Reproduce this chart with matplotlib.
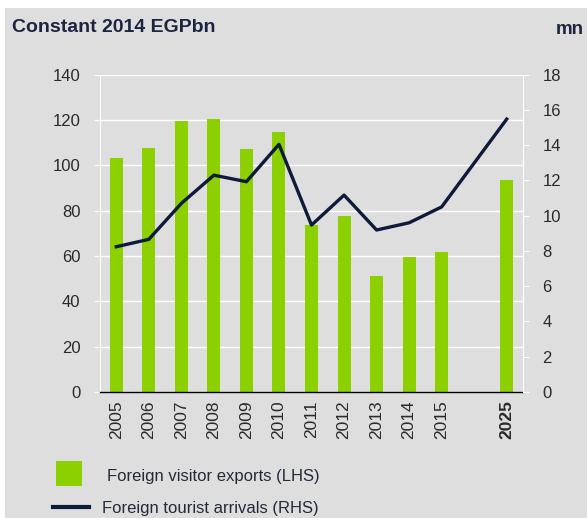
import matplotlib
matplotlib.use("Agg")
import matplotlib.pyplot as plt
from matplotlib.patches import Rectangle
from matplotlib.lines import Line2D
import numpy as np

years = ["2005", "2006", "2007", "2008", "2009", "2010", "2011", "2012", "2013", "2014", "2015", "2025"]
positions = [0, 1, 2, 3, 4, 5, 6, 7, 8, 9, 10, 12]
exports = [103.2, 107.5, 119.6, 120.4, 107.1, 114.8, 73.7, 77.8, 51.2, 59.7, 61.7, 93.6]
arrivals = [8.24, 8.66, 10.7, 12.3, 11.93, 14.05, 9.47, 11.17, 9.19, 9.6, 10.5, 15.48]
lhs_ticks = [0, 20, 40, 60, 80, 100, 120, 140]
rhs_ticks = [0, 2, 4, 6, 8, 10, 12, 14, 16, 18]

plt.rcParams['font.family'] = ['Liberation Sans', 'DejaVu Sans']

BG = "#dedede"
GREEN = "#8cd000"
NAVY = "#0e1a3a"
TXT = "#2a2a2a"

fig = plt.figure(figsize=(5.87, 5.18), dpi=100)
fig.patch.set_facecolor("white")
fig.patches.append(Rectangle((5/587, 0), 1, (518-8)/518, transform=fig.transFigure,
                             facecolor=BG, edgecolor="none", zorder=-10))

ax = fig.add_axes([100/587, (518-392)/518, (523-100)/587, (392-74.7)/518])
ax.set_facecolor(BG)
ax.set_xlim(-0.5, 12.5)
ax.set_ylim(0, 140)
ax.set_yticks(lhs_ticks)
ax.yaxis.grid(True, color="white", lw=1.0)
ax.set_axisbelow(True)
ax.bar(positions, exports, width=0.4, color=GREEN, zorder=2)
ax.spines["top"].set_visible(False)
ax.spines["left"].set_color("white")
ax.spines["right"].set_color("white")
ax.spines["bottom"].set_color("black")
ax.spines["bottom"].set_linewidth(1.0)
ax.tick_params(axis="y", colors="white", labelcolor=TXT, labelsize=12, length=4, pad=10)
ax.tick_params(axis="x", length=0, labelsize=12.5, labelcolor=TXT, pad=6)
ax.set_xticks(positions)
ax.set_xticklabels(years, rotation=90)
ax.get_xticklabels()[-1].set_fontweight("bold")

ax2 = ax.twinx()
ax2.set_ylim(0, 18)
ax2.set_yticks(rhs_ticks)
ax2.plot(positions, arrivals, color=NAVY, lw=2.4, zorder=3)
for s in ["top", "bottom", "left"]:
    ax2.spines[s].set_visible(False)
ax2.spines["right"].set_color("white")
ax2.tick_params(axis="y", colors="white", labelcolor=TXT, labelsize=12, length=4, pad=10)

fig.text(12/587, 1-28/518, "Constant 2014 EGPbn", fontsize=14, fontweight="bold",
         color="#1c2540", va="center", ha="left")
fig.text(556/587, 1-30/518, "mn", fontsize=13.5, fontweight="bold",
         color="#1c2540", va="center", ha="left")

fig.patches.append(Rectangle((56/587, 1-486/518), 26/587, 25/518, transform=fig.transFigure,
                             facecolor=GREEN, edgecolor="none"))
fig.text(107/587, 1-477/518, "Foreign visitor exports (LHS)", fontsize=12, color="#222a3a",
         va="center", ha="left")
fig.lines.append(Line2D([53/587, 89/587], [1-507/518, 1-507/518], transform=fig.transFigure,
                        color=NAVY, lw=3))
fig.text(102/587, 1-508/518, "Foreign tourist arrivals (RHS)", fontsize=12, color="#222a3a",
         va="center", ha="left")

fig.savefig("out.png", dpi=100, facecolor=fig.get_facecolor())
